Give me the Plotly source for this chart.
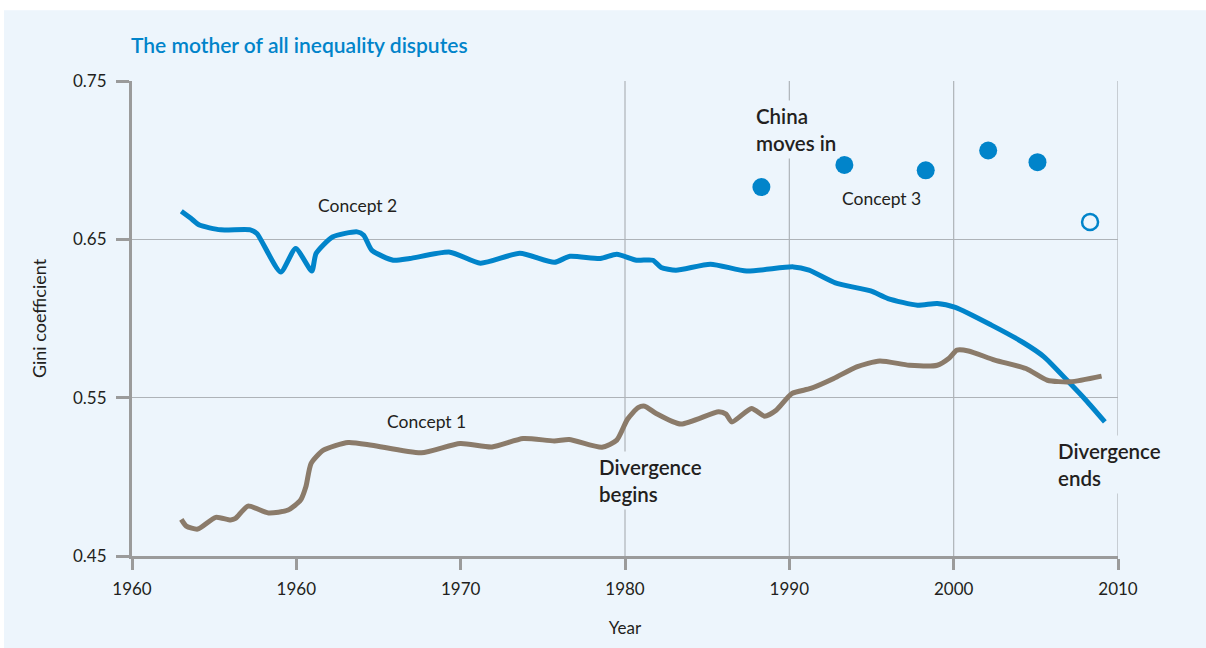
import plotly.graph_objects as go

# ---------------- data ----------------
c2_years = [1953.0, 1953.6, 1954.1, 1955.4, 1957.2, 1957.6, 1959.05, 1959.96, 1960.94, 1961.2,
            1962.2, 1963.7, 1964.1, 1964.6, 1965.9, 1966.9, 1969.35, 1971.2, 1973.6, 1975.7,
            1976.65, 1978.5, 1979.5, 1980.7, 1981.7, 1982.2, 1983.1, 1985.2, 1987.4, 1990.25,
            1991.2, 1992.8, 1994.95, 1996.0, 1997.8, 1999.0, 2000.1, 2002.3, 2004.2, 2005.5,
            2006.9, 2008.05, 2009.2]
c2_gini = [0.6677, 0.6631, 0.659, 0.656, 0.656, 0.6537, 0.6294, 0.6442, 0.630, 0.641,
           0.6515, 0.6547, 0.6526, 0.643, 0.6368, 0.6379, 0.6419, 0.6349, 0.6412, 0.6355,
           0.6393, 0.6379, 0.6406, 0.6368, 0.6368, 0.6322, 0.6305, 0.6343, 0.630, 0.6326,
           0.6305, 0.6225, 0.6174, 0.6126, 0.6084, 0.6095, 0.607, 0.5958, 0.585, 0.5758,
           0.561, 0.5484, 0.5347]

c1_years = [1953.0, 1953.3, 1954.0, 1955.1, 1956.0, 1956.3, 1957.06, 1958.3, 1959.5, 1960.26,
            1960.58, 1960.9, 1961.65, 1963.15, 1964.6, 1967.6, 1969.97, 1971.9, 1973.8, 1975.7,
            1976.6, 1978.6, 1979.5, 1980.15, 1980.8, 1981.2, 1981.9, 1983.4, 1985.7, 1986.15,
            1986.5, 1987.7, 1988.5, 1989.2, 1990.15, 1991.3, 1992.7, 1994.1, 1995.5, 1997.3,
            1999.0, 1999.7, 2000.2, 2000.9, 2002.5, 2004.4, 2005.7, 2007.1, 2009.0]
c1_gini = [0.4731, 0.4689, 0.467, 0.4744, 0.4727, 0.4737, 0.4815, 0.4772, 0.479, 0.4853,
           0.4937, 0.5085, 0.5169, 0.5217, 0.520, 0.5152, 0.5211, 0.5189, 0.5242, 0.5227,
           0.5236, 0.5187, 0.5232, 0.5364, 0.5437, 0.5446, 0.540, 0.5333, 0.5411, 0.5396,
           0.5347, 0.5432, 0.5383, 0.5421, 0.5526, 0.5558, 0.5621, 0.5695, 0.5732, 0.5705,
           0.5705, 0.5747, 0.580, 0.5795, 0.5737, 0.5684, 0.561, 0.560, 0.5636]

c3_years = [1988.3, 1993.35, 1998.3, 2002.1, 2005.1]
c3_gini = [0.683, 0.697, 0.6936, 0.7061, 0.6987]
c3_open_years = [2008.3]
c3_open_gini = [0.661]

x_tickvals = [1950, 1960, 1970, 1980, 1990, 2000, 2010]
x_ticktext = ["1960", "1960", "1970", "1980", "1990", "2000", "2010"]
y_tickvals = [0.45, 0.55, 0.65, 0.75]
y_ticktext = ["0.45", "0.55", "0.65", "0.75"]
grid_years = [1980, 1990, 2000, 2010]

# ---------------- style ----------------
BLUE = "#0184CA"
BROWN = "#8B7B6A"
BG = "#EDF5FC"
AXIS = "#9B9B9B"
GRID = "#AEB3B8"
TEXT = "#231F20"
FONT = "Lato"

fig = go.Figure()

fig.add_trace(go.Scatter(x=c2_years, y=c2_gini, mode="lines",
                         line=dict(color=BLUE, width=5, shape="spline", smoothing=0.6),
                         hoverinfo="x+y", showlegend=False, name="Concept 2"))
fig.add_trace(go.Scatter(x=c1_years, y=c1_gini, mode="lines",
                         line=dict(color=BROWN, width=5, shape="spline", smoothing=0.6),
                         hoverinfo="x+y", showlegend=False, name="Concept 1"))
fig.add_trace(go.Scatter(x=c3_years, y=c3_gini, mode="markers",
                         marker=dict(color=BLUE, size=18, line=dict(width=0)),
                         showlegend=False, name="Concept 3"))
fig.add_trace(go.Scatter(x=c3_open_years, y=c3_open_gini, mode="markers",
                         marker=dict(color=BG, size=16, line=dict(color=BLUE, width=2.5)),
                         showlegend=False, name="Concept 3 (est.)"))

shapes = [dict(type="rect", xref="paper", yref="paper",
               x0=-0.1298, x1=1.0892, y0=-0.1936, y1=1.1488,
               fillcolor=BG, line=dict(width=0), layer="below")]
for gy in grid_years:
    shapes.append(dict(type="line", xref="x", yref="paper", x0=gy, x1=gy, y0=0, y1=1,
                       line=dict(color=GRID, width=1.2), layer="below"))

ann_font_small = dict(family=FONT, size=17.5, color=TEXT)
ann_font_bold = dict(family=FONT, size=20.5, color=TEXT, weight=600)

annotations = [
    dict(x=1963.7, y=0.6715, text="Concept 2", showarrow=False, font=ann_font_small,
         xanchor="center", yanchor="middle"),
    dict(x=1967.9, y=0.5352, text="Concept 1", showarrow=False, font=ann_font_small,
         xanchor="center", yanchor="middle"),
    dict(x=1995.6, y=0.676, text="Concept 3", showarrow=False, font=ann_font_small,
         xanchor="center", yanchor="middle"),
    dict(x=1987.75, y=0.7195, text="China<br>moves in", showarrow=False, font=ann_font_bold,
         xanchor="left", yanchor="middle", align="left", bgcolor=BG, borderpad=3),
    dict(x=1978.15, y=0.4975, text="Divergence<br>begins", showarrow=False, font=ann_font_bold,
         xanchor="left", yanchor="middle", align="left", bgcolor=BG, borderpad=3),
    dict(x=2006.1, y=0.508, text="Divergence<br>ends", showarrow=False, font=ann_font_bold,
         xanchor="left", yanchor="middle", align="left", bgcolor=BG, borderpad=3),
]

fig.update_layout(
    width=1206, height=648,
    margin=dict(l=132, r=88, t=81, b=92),
    paper_bgcolor="white", plot_bgcolor=BG,
    font=dict(family=FONT, size=15, color=TEXT),
    title=dict(text="The mother of all inequality disputes",
               font=dict(family=FONT, size=21, color=BLUE, weight=600),
               x=131 / 1206, xref="container", xanchor="left",
               y=1 - 46 / 648, yref="container", yanchor="middle"),
    shapes=shapes,
    annotations=annotations,
    showlegend=False,
)

fig.update_xaxes(
    range=[1950, 2010], tickvals=x_tickvals, ticktext=x_ticktext,
    showgrid=False, zeroline=False,
    showline=True, linecolor=AXIS, linewidth=3,
    ticks="outside", ticklen=11, tickwidth=3, tickcolor=AXIS,
    tickfont=dict(family=FONT, size=17, color=TEXT), ticklabelstandoff=5,
    title=dict(text="Year", font=dict(family=FONT, size=17, color=TEXT), standoff=24),
)
fig.update_yaxes(
    range=[0.45, 0.75], tickvals=y_tickvals, ticktext=y_ticktext,
    showgrid=True, gridcolor=GRID, gridwidth=1.2, zeroline=False,
    showline=True, linecolor=AXIS, linewidth=3,
    ticks="outside", ticklen=13, tickwidth=3, tickcolor=AXIS,
    tickfont=dict(family=FONT, size=17, color=TEXT), ticklabelstandoff=6,
    title=dict(text="Gini coefficient", font=dict(family=FONT, size=18, color=TEXT), standoff=22),
)

fig.write_html("out.html", config={"displayModeBar": False},
               post_script="document.body.style.margin='0';document.body.style.padding='0';")
